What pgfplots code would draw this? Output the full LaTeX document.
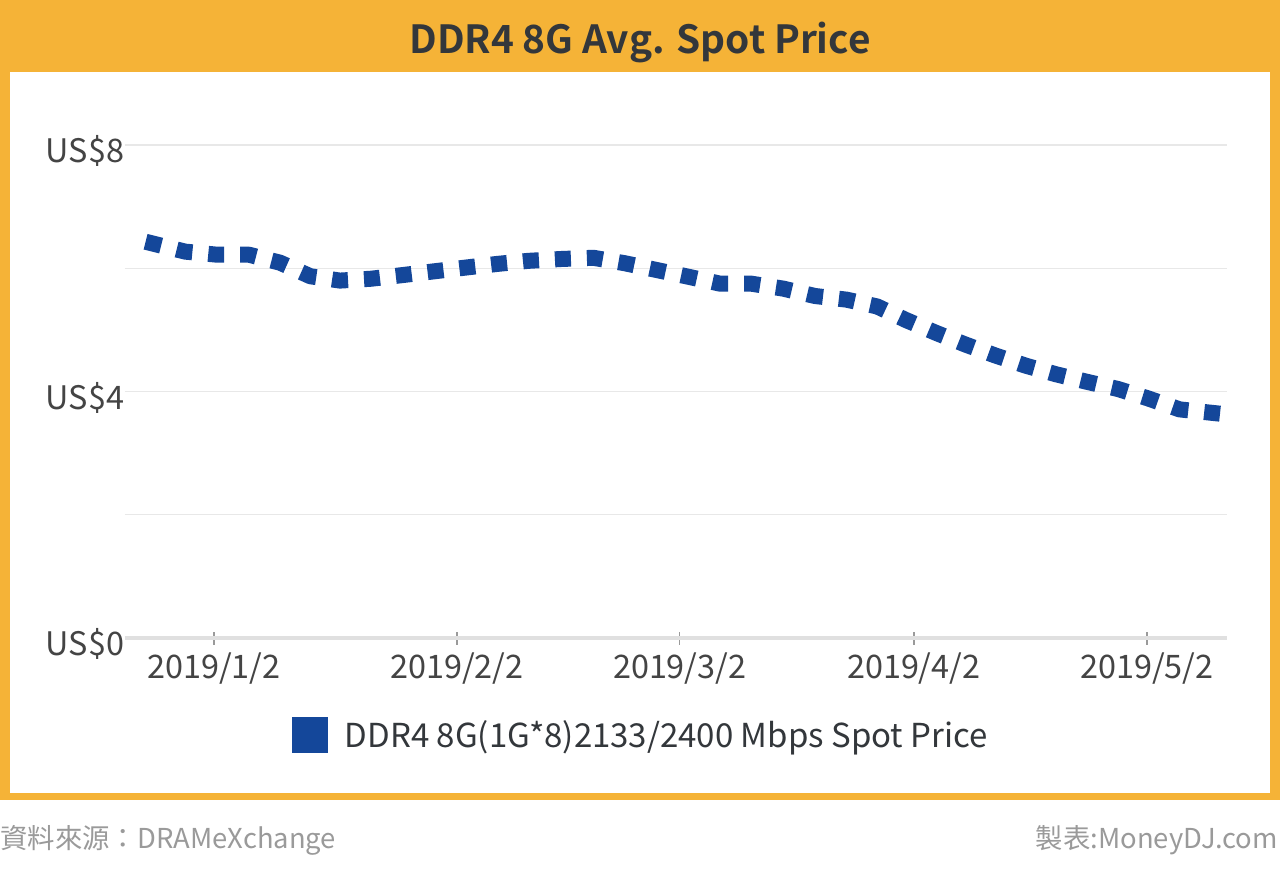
\documentclass[border=0pt]{standalone}
\usepackage{fontspec}
\setmainfont{Noto Sans CJK TC}[BoldFont={Noto Sans CJK TC Bold}]
\usepackage{pgfplots}
\pgfplotsset{compat=1.18}
\definecolor{bgorange}{HTML}{F5B337}
\definecolor{lineblue}{HTML}{14479A}
\definecolor{titlegray}{HTML}{33373B}
\definecolor{labelgray}{HTML}{444444}
\definecolor{srcgray}{HTML}{9A9A9A}
\definecolor{gridgray}{HTML}{E8E8E8}
\begin{document}
\begin{tikzpicture}
% canvas: 1 px = 0.5pt, origin at plot SW corner (px 125,638)
\fill[white] (-62.5pt,-121pt) rectangle (577.5pt,319pt);
\fill[bgorange] (-62.5pt,-81pt) rectangle (577.5pt,319pt);
\fill[white] (-57.5pt,-77.5pt) rectangle (572.5pt,283pt);
\node[font=\fontsize{19.4}{22}\selectfont\bfseries, text=titlegray] at (257.5pt,298pt) {DDR4 8G Avg. Spot Price};
\node[anchor=west, inner sep=0pt, font=\fontsize{13.7}{16}\selectfont, text=srcgray] at (-62.5pt,-101pt) {資料來源：DRAMeXchange};
\node[anchor=east, inner sep=0pt, font=\fontsize{13.7}{16}\selectfont, text=srcgray] at (576.5pt,-101pt) {製表:MoneyDJ.com};
\begin{axis}[
  at={(0pt,0pt)}, anchor=south west,
  scale only axis, width=551pt, height=246.5pt,
  xmin=-10.45, xmax=131.3, ymin=0, ymax=8,
  axis line style={draw=none},
  xtick={1,32.25,60.9,91,121},
  xticklabels={2019/1/2,2019/2/2,2019/3/2,2019/4/2,2019/5/2},
  xtick pos=bottom, tick align=center,
  major tick length=6.5pt,
  xtick style={color=srcgray, line width=0.8pt},
  ytick={0,4,8}, yticklabels={US\$0,US\$4,US\$8},
  minor ytick={2,6},
  ytick style={draw=none}, minor y tick style={draw=none},
  ymajorgrids, yminorgrids,
  major grid style={gridgray, line width=0.7pt},
  minor grid style={gridgray, line width=0.7pt},
  extra y ticks={0}, extra y tick labels={},
  extra y tick style={major grid style={color=black!12, line width=2pt}, tick style={draw=none}},
  ticklabel style={font=\fontsize{16.2}{19}\selectfont, text=labelgray},
  yticklabel style={anchor=east, inner sep=0pt, xshift=3pt, yshift=-3pt},
  xticklabel style={anchor=north, inner sep=0pt, yshift=-4pt},
  legend style={draw=none, fill=none, at={(0.469,-0.197)}, anchor=center,
    font=\fontsize{16.5}{19}\selectfont, text=titlegray,
    legend cell align=left},
  legend image code/.code={\fill[lineblue, draw=none, solid] (0pt,-9pt) rectangle (18pt,9pt);
     \path[draw=none, fill=none] (0pt,0pt) -- (24.5pt,0pt);},
  clip=false,
]
\addplot[lineblue, line width=8pt, dash pattern=on 8pt off 8pt, line join=round] coordinates {
(-7.8,6.43) (-2.7,6.27) (1.4,6.22) (5.5,6.22) (9.5,6.09) (13.4,5.87) (17.2,5.80)
(21.2,5.83) (25.3,5.89) (29.3,5.95) (33.3,6.01) (37.4,6.07) (41.4,6.12) (45.6,6.15)
(49.8,6.17) (53.9,6.08) (58.0,5.97) (62.1,5.86) (66.1,5.75) (70.1,5.75) (74.2,5.67)
(78.3,5.55) (82.4,5.49) (86.3,5.38) (90.0,5.16) (93.9,4.95) (97.7,4.76) (101.6,4.58)
(105.4,4.42) (109.3,4.28) (113.2,4.16) (117.3,4.04) (121.1,3.89) (125.2,3.71) (130.4,3.64)
};
\addlegendentry{DDR4 8G(1G*8)2133/2400 Mbps Spot Price}
\end{axis}
\end{tikzpicture}
\end{document}
